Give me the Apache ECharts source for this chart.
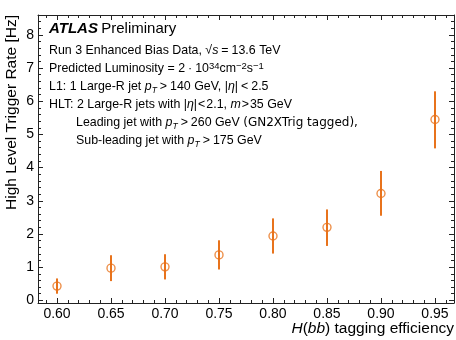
<!DOCTYPE html>
<html>
<head>
<meta charset="utf-8">
<script src="https://cdn.jsdelivr.net/npm/echarts@6/dist/echarts.min.js"></script>
<style>html,body{margin:0;padding:0;background:#fff}#c{width:456px;height:340px}</style>
</head>
<body>
<div id="c"></div>
<script>
// ---- data ----
const efficiency = [0.60, 0.65, 0.70, 0.75, 0.80, 0.85, 0.90, 0.95];
const rate       = [0.43, 0.97, 1.01, 1.37, 1.94, 2.20, 3.22, 5.45];
const rateLow    = [0.20, 0.58, 0.63, 0.93, 1.41, 1.64, 2.55, 4.58];
const rateHigh   = [0.66, 1.36, 1.39, 1.81, 2.47, 2.74, 3.90, 6.30];
const xTickValues = [0.60, 0.65, 0.70, 0.75, 0.80, 0.85, 0.90, 0.95];
const yTickValues = [0, 1, 2, 3, 4, 5, 6, 7, 8];
const xRange = [0.5824, 0.9676];
const yRange = [-0.08, 8.6];

const xMinor = [];
for (let i = 59; i <= 96; i++) { if (i % 5 !== 0) xMinor.push(i / 100); }
const yMinor = [];
for (let i = 1; i <= 42; i++) { if (i % 5 !== 0) yMinor.push(Math.round(i * 2) / 10); }

const ORANGE = '#e8731c';
const AX = '#222';
const chart = echarts.init(document.getElementById('c'), null, {renderer: 'canvas'});

function xAx(pos, major, labels) {
  return {
    type: 'value', position: pos, min: xRange[0], max: xRange[1],
    axisLine: {show: major, onZero: false, lineStyle: {color: AX, width: 1}},
    axisTick: {show: true, inside: true, length: major ? 5 : 3, customValues: major ? xTickValues : xMinor,
      lineStyle: {color: AX, width: 1}},
    axisLabel: {show: labels, customValues: xTickValues, formatter: v => v.toFixed(2),
      fontSize: 14, color: '#000', margin: 4, fontFamily: 'Liberation Sans'},
    splitLine: {show: false}
  };
}
function yAx(pos, major, labels) {
  return {
    type: 'value', position: pos, min: yRange[0], max: yRange[1],
    axisLine: {show: major, onZero: false, lineStyle: {color: AX, width: 1}},
    axisTick: {show: true, inside: true, length: major ? 5 : 3, customValues: major ? yTickValues : yMinor,
      lineStyle: {color: AX, width: 1}},
    axisLabel: {show: labels, customValues: yTickValues, formatter: v => String(v),
      fontSize: 14, color: '#000', margin: 4, fontFamily: 'Liberation Sans'},
    splitLine: {show: false}
  };
}

const T = 'Liberation Sans';
const FS = 12.4;
const LH = 16;
const base = {fontFamily: T, fontSize: FS, lineHeight: LH, color: '#000'};
const rich = {
  t: base,
  d: Object.assign({}, base, {fontFamily: 'DejaVu Sans', fontSize: 12}),
  i: Object.assign({}, base, {fontStyle: 'italic'}),
  r: Object.assign({}, base, {padding: [0, 3, 0, 3]}),
  r1: Object.assign({}, base, {padding: [0, 1, 0, 1]}),
  sup: {fontFamily: T, fontSize: 9.5, lineHeight: 11, verticalAlign: 'top', color: '#000'},
  sub: {fontFamily: T, fontSize: 8.5, fontStyle: 'italic', lineHeight: 10, verticalAlign: 'bottom', color: '#000'},
  atlas: {fontFamily: T, fontSize: 15, fontWeight: 'bold', fontStyle: 'italic', color: '#000'},
  pre: {fontFamily: T, fontSize: 15, color: '#000'}
};
function txt(x, y, text) {
  return {type: 'text', x: x, y: y, style: {text: text, rich: rich, verticalAlign: 'middle', align: 'left'}};
}

const option = {
  animation: false,
  grid: {left: 38, right: 2, top: 15, bottom: 37, containLabel: false},
  xAxis: [xAx('bottom', true, true), xAx('bottom', false, false), xAx('top', true, false), xAx('top', false, false)],
  yAxis: [yAx('left', true, true), yAx('left', false, false), yAx('right', true, false), yAx('right', false, false)],
  series: [
    {
      type: 'custom', xAxisIndex: 0, yAxisIndex: 0,
      data: efficiency.map((x, i) => [x, rateLow[i], rateHigh[i]]),
      renderItem: function (params, api) {
        const p1 = api.coord([api.value(0), api.value(1)]);
        const p2 = api.coord([api.value(0), api.value(2)]);
        return {type: 'line', shape: {x1: p1[0], y1: p1[1], x2: p2[0], y2: p2[1]},
          style: {stroke: ORANGE, lineWidth: 2}};
      },
      z: 2
    },
    {
      type: 'scatter', xAxisIndex: 0, yAxisIndex: 0,
      data: efficiency.map((x, i) => [x, rate[i]]),
      symbol: 'circle', symbolSize: 8,
      itemStyle: {color: 'rgba(0,0,0,0)', borderColor: ORANGE, borderWidth: 1.4},
      z: 3
    }
  ],
  graphic: [
    {type: 'text', x: 12, y: 15, rotation: Math.PI / 2,
      style: {text: 'High Level Trigger Rate [Hz]', fontFamily: T, fontSize: 15.5, fill: '#000', align: 'right', verticalAlign: 'middle'}},
    {type: 'text', x: 454, y: 329,
      style: {text: '{i|H}{n|(}{i|bb}{n|) tagging efficiency}', align: 'right', verticalAlign: 'middle',
        rich: {i: {fontFamily: T, fontStyle: 'italic', fontSize: 15.5, color: '#000'},
               n: {fontFamily: T, fontSize: 15.5, color: '#000'}}}},
    txt(49, 29, '{atlas|ATLAS} {pre|Preliminary}'),
    txt(49, 51, '{t|Run 3 Enhanced Bias Data, √}{i|s}{r|=}{t|13.6 TeV}'),
    txt(49, 69, '{t|Predicted Luminosity = 2}{r|·}{t|10}{sup|34}{t|cm}{sup|−2}{t|s}{sup|−1}'),
    txt(49, 87, '{t|L1: 1 Large-R jet }{i|p}{sub|T}{r|>}{t|140 GeV, |}{i|η}{t||}{r|<}{t|2.5}'),
    txt(49, 105, '{t|HLT: 2 Large-R jets with |}{i|η}{t||}{r1|<}{t|2.1, }{i|m}{r1|>}{t|35 GeV}'),
    txt(76, 123, '{t|Leading jet with }{i|p}{sub|T}{r|>}{t|260 GeV }{d|(GN2XTrig tagged),}'),
    txt(76, 141, '{t|Sub-leading jet with }{i|p}{sub|T}{r|>}{t|175 GeV}')
  ]
};
chart.setOption(option);
</script>
</body>
</html>
